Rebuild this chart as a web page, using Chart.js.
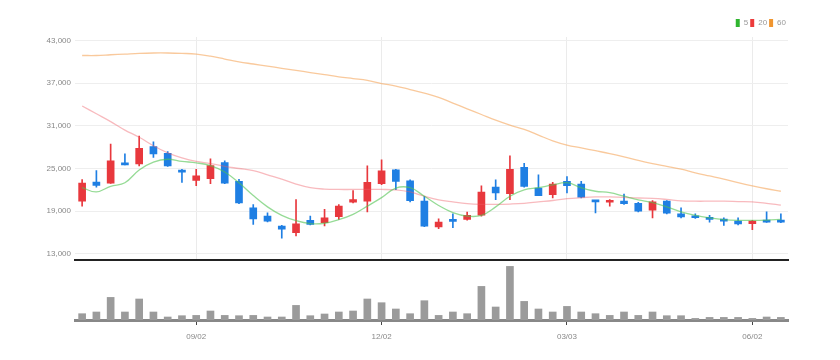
<!DOCTYPE html>
<html>
<head>
<meta charset="utf-8">
<script src="https://cdn.jsdelivr.net/npm/chart.js@4/dist/chart.umd.min.js"></script>
<style>
  html, body { margin: 0; padding: 0; background: #fff; }
  #wrap { position: relative; width: 840px; height: 360px; }
  #price { position: absolute; left: 0; top: 0; }
  #volume { position: absolute; left: 0; top: 262px; }
</style>
</head>
<body>
<div id="wrap">
  <canvas id="price" width="840" height="269"></canvas>
  <canvas id="volume" width="840" height="98"></canvas>
</div>
<script>
// Weekly candles, labels are MM/DD
const labels = [
    '07/08', '07/15', '07/22', '07/29', '08/05', '08/12', '08/19', '08/26', '09/02', '09/09',
    '09/16', '09/23', '09/30', '10/07', '10/14', '10/21', '10/28', '11/04', '11/11', '11/18',
    '11/25', '12/02', '12/09', '12/16', '12/23', '12/30', '01/06', '01/13', '01/20', '01/27',
    '02/03', '02/10', '02/17', '02/24', '03/03', '03/10', '03/17', '03/24', '03/31', '04/07',
    '04/14', '04/21', '04/28', '05/05', '05/12', '05/19', '05/26', '06/02', '06/09', '06/16'
];
const dateTicks = ['09/02', '12/02', '03/03', '06/02'];
const priceTicks = [13000, 19000, 25000, 31000, 37000, 43000];

// OHLC
const open = [
    20400, 23090, 22950, 25740, 25650, 28070, 27140, 24680, 23320, 23560,
    25830, 23180, 19460, 18300, 16900, 15970, 17700, 17370, 18210, 20250,
    20400, 22860, 24820, 23280, 20400, 16770, 17740, 17840, 18440, 22390,
    21470, 25180, 22250, 21330, 23180, 22810, 20530, 20250, 20400, 20110,
    19140, 20400, 18620, 18300, 18070, 17840, 17600, 17230, 17700, 17740
];
const high = [
    23450, 24720, 28440, 27050, 29560, 28760, 27370, 24900, 24900, 26350,
    26070, 23460, 19930, 18760, 17000, 20630, 18300, 19240, 19930, 21890,
    25370, 26210, 24900, 23420, 21090, 17920, 18620, 18860, 22580, 23420,
    26770, 25740, 24120, 23040, 23880, 23180, 20530, 20630, 21410, 20250,
    20490, 20490, 19460, 18620, 18400, 18070, 18070, 17700, 18900, 18620
];
const low = [
    19700, 22390, 22900, 25500, 25370, 26570, 25280, 23040, 22580, 22860,
    22860, 20070, 17140, 17500, 15190, 15510, 17050, 16910, 17840, 20160,
    18900, 22720, 22030, 20300, 16810, 16530, 16670, 17740, 18300, 20630,
    20630, 22390, 21190, 20860, 21550, 20860, 18760, 19700, 19930, 18900,
    18060, 18620, 18060, 17980, 17460, 17000, 17050, 16390, 17420, 17370
];
const close = [
    22950, 22620, 26070, 25510, 27830, 27050, 25370, 24480, 23980, 25420,
    22950, 20160, 17920, 17600, 16450, 17230, 17140, 18070, 19700, 20630,
    23040, 24680, 23180, 20490, 16900, 17460, 17560, 18400, 21690, 21550,
    24900, 22490, 21190, 22810, 22580, 20950, 20300, 20440, 20070, 19000,
    20300, 18720, 18200, 18070, 17840, 17600, 17190, 17600, 17460, 17460
];

// Moving averages
const ma5 = [
    22300, 21700, 22500, 23000, 24800, 25900, 26300, 26000, 25800, 25400,
    24500, 23000, 21200, 19600, 18400, 17650, 17250, 17300, 17800, 18550,
    19700, 20900, 22250, 22300, 21100, 19800, 18800, 18300, 18400, 19600,
    21100, 22000, 22300, 22700, 23000, 22300, 21800, 21600, 21100, 20600,
    20200, 19600, 18900, 18400, 18050, 17800, 17700, 17700, 17750, 17850
];
const ma20 = [
    33800, 32700, 31600, 30400, 29400, 28200, 27200, 26500, 26000, 25700,
    25300, 25000, 24700, 24100, 23500, 22800, 22300, 22100, 22050, 22050,
    22050, 22050, 22000, 21700, 21100, 20600, 20300, 20050, 19950, 19950,
    20000, 20100, 20300, 20500, 20750, 20900, 21000, 21000, 20950, 20850,
    20800, 20650, 20450, 20400, 20400, 20400, 20350, 20300, 20100, 19850
];
const ma60 = [
    40900, 40900, 41000, 41100, 41200, 41250, 41250, 41200, 41100, 40800,
    40400, 40000, 39700, 39400, 39100, 38800, 38500, 38200, 37900, 37650,
    37400, 36950, 36600, 36100, 35600, 35000, 34200, 33400, 32600, 31800,
    31100, 30500, 29700, 28900, 28300, 27900, 27500, 27100, 26650, 26150,
    25700, 25300, 24900, 24400, 23950, 23500, 23000, 22550, 22150, 21800
];

// Volume (thousand shares)
const volume = [
    63, 80, 226, 80, 210, 80, 30, 43, 46, 90,
    46, 43, 46, 30, 30, 146, 43, 60, 80, 90,
    210, 173, 110, 63, 193, 46, 80, 63, 336, 130,
    536, 186, 110, 80, 136, 80, 63, 46, 80, 46,
    80, 43, 43, 16, 26, 26, 26, 16, 30, 26
];

const FONT = "'Liberation Sans', Arial, sans-serif";
const UP = '#e8383d';
const DOWN = '#1f7fe3';
const candleColors = open.map((o, i) => close[i] >= o ? UP : DOWN);

const isDateTick = (i) => dateTicks.includes(labels[i]);

// Price chart
new Chart(document.getElementById('price'), {
    type: 'bar',
    data: {
        labels: labels,
        datasets: [
            { type: 'line', label: '5', data: ma5, borderColor: 'rgba(80,195,80,0.6)', backgroundColor: '#2fb52f',
              borderWidth: 1.3, pointRadius: 0, tension: 0.4, order: 0 },
            { type: 'line', label: '20', data: ma20, borderColor: 'rgba(238,90,100,0.42)', backgroundColor: '#ec3b3b',
              borderWidth: 1.3, pointRadius: 0, tension: 0.4, order: 0 },
            { type: 'line', label: '60', data: ma60, borderColor: 'rgba(245,165,90,0.6)', backgroundColor: '#f0952f',
              borderWidth: 1.3, pointRadius: 0, tension: 0.4, order: 0 },
            { label: 'body', data: open.map((o, i) => [o, close[i]]), backgroundColor: candleColors,
              barThickness: 7, minBarLength: 2, grouped: false, order: 1 },
            { label: 'wick', data: low.map((l, i) => [l, high[i]]), backgroundColor: candleColors,
              barThickness: 1, grouped: false, order: 2 }
        ]
    },
    options: {
        responsive: false,
        animation: false,
        layout: { padding: { top: 17, right: 52, bottom: 4, left: 0 } },
        plugins: {
            tooltip: { enabled: false },
            legend: {
                position: 'top',
                align: 'end',
                labels: {
                    boxWidth: 4,
                    boxHeight: 8,
                    padding: 2,
                    color: '#999',
                    font: { size: 8, family: FONT },
                    generateLabels: (chart) => chart.data.datasets.slice(0, 3).map((ds, i) => ({
                        text: ds.label,
                        fillStyle: ds.backgroundColor,
                        strokeStyle: ds.backgroundColor,
                        lineWidth: 0,
                        fontColor: '#999',
                        datasetIndex: i,
                        hidden: false
                    }))
                }
            }
        },
        scales: {
            x: {
                offset: true,
                afterFit: (scale) => { scale.height = 0; },
                ticks: { display: false, autoSkip: false },
                grid: {
                    offset: false,
                    drawTicks: false,
                    color: (ctx) => isDateTick(ctx.index) ? '#ebebeb' : 'transparent'
                },
                border: { color: '#222', width: 2 }
            },
            y: {
                min: 12100,
                max: 43500,
                afterBuildTicks: (scale) => { scale.ticks = priceTicks.map(v => ({ value: v })); },
                afterFit: (scale) => { scale.width = 75; },
                ticks: {
                    color: '#888',
                    padding: 4,
                    font: { size: 8, family: FONT },
                    callback: (v) => v.toLocaleString('en-US')
                },
                grid: { color: '#eeeeee', drawTicks: false },
                border: { display: false }
            }
        }
    }
});

// Volume chart
new Chart(document.getElementById('volume'), {
    type: 'bar',
    data: {
        labels: labels,
        datasets: [{ label: 'volume', data: volume, backgroundColor: '#9b9b9b', barThickness: 7 }]
    },
    options: {
        responsive: false,
        animation: false,
        layout: { padding: { top: 0, right: 52, bottom: 0, left: 75 } },
        plugins: { legend: { display: false }, tooltip: { enabled: false } },
        scales: {
            x: {
                offset: true,
                afterFit: (scale) => { scale.height = 40; },
                ticks: {
                    autoSkip: false,
                    maxRotation: 0,
                    padding: 7,
                    color: '#888',
                    font: { size: 8, family: FONT },
                    callback: (v, i) => isDateTick(i) ? labels[i] : ''
                },
                grid: {
                    offset: false,
                    drawOnChartArea: false,
                    tickLength: 5,
                    color: (ctx) => isDateTick(ctx.index) ? '#444' : 'transparent'
                },
                border: { color: '#888', width: 3 }
            },
            y: { display: false, min: 0, max: 580 }
        }
    }
});
</script>
</body>
</html>
